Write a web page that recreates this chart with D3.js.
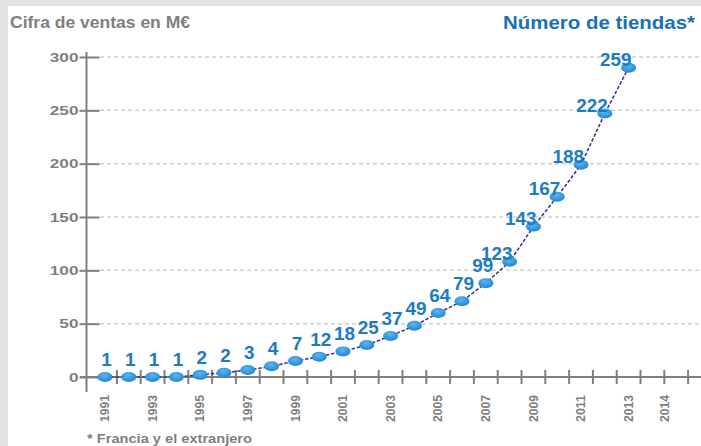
<!DOCTYPE html>
<html>
<head>
<meta charset="utf-8">
<script src="https://cdn.jsdelivr.net/npm/d3@7"></script>
<style>
  html, body { margin: 0; padding: 0; background: #e2e2e2; }
  svg { display: block; }
  text { font-family: "Liberation Sans", Arial, sans-serif; font-weight: bold; }
</style>
</head>
<body>
<svg id="chart" width="701" height="446"></svg>
<script>
// ---- data ----
const years = [1991,1992,1993,1994,1995,1996,1997,1998,1999,2000,2001,2002,2003,2004,2005,2006,2007,2008,2009,2010,2011,2012,2013];
const sales = [0,0,0,0,2,4,6.5,10,15,19,24,30,38.5,48,60,71,88,108,141,169,199,247,290];
const stores = [1,1,1,1,2,2,3,4,7,12,18,25,37,49,64,79,99,123,143,167,188,222,259];
const yTicks = [0,50,100,150,200,250,300];
const xLabelYears = [1991,1993,1995,1997,1999,2001,2003,2005,2007,2009,2011,2013];
const xExtraLabel = "2014";
const axisYears = [1991,1992,1993,1994,1995,1996,1997,1998,1999,2000,2001,2002,2003,2004,2005,2006,2007,2008,2009,2010,2011,2012,2013,2014,2015];
const titleLeft = "Cifra de ventas en M€";
const titleRight = "Número de tiendas*";
const footnote = "* Francia y el extranjero";

const svg = d3.select("#chart");
const W = 701, H = 446;

// white panel
svg.append("rect").attr("x", 8).attr("y", 6).attr("width", W - 8).attr("height", H - 6).attr("fill", "#ffffff");

const x = d3.scaleLinear().domain([1991, 2013]).range([105, 628.6]);
const y = d3.scaleLinear().domain([0, 300]).range([377, 57]);

const gray = "#7f7f7f";
const blue = "#1b7bc4";

// gridlines
svg.append("g").selectAll("line").data(yTicks.filter(d => d > 0)).join("line")
  .attr("x1", 100).attr("x2", W)
  .attr("y1", d => y(d)).attr("y2", d => y(d))
  .attr("stroke", "#cfcfcf").attr("stroke-width", 1.5).attr("stroke-dasharray", "4,3");

// y axis
const yAxis = d3.axisLeft(y).tickValues(yTicks).tickSize(0).tickPadding(8);
const gy = svg.append("g").attr("transform", "translate(86.5,0)").call(yAxis);
gy.select(".domain").remove();
gy.selectAll("text").attr("fill", gray).attr("font-size", 13)
  .attr("x", -8)
  .attr("textLength", d => String(d).length * 9.6).attr("lengthAdjust", "spacingAndGlyphs");
gy.selectAll(".tick").append("line").attr("x1", -7).attr("x2", 13).attr("stroke", gray).attr("stroke-width", 2);
gy.append("line").attr("x1", 0).attr("x2", 0).attr("y1", 52).attr("y2", 392).attr("stroke", gray).attr("stroke-width", 2);

// x axis
const gx = svg.append("g");
gx.append("line").attr("x1", 80).attr("x2", W).attr("y1", y(0)).attr("y2", y(0))
  .attr("stroke", gray).attr("stroke-width", 2);
gx.selectAll("line.tk").data(axisYears).join("line").attr("class", "tk")
  .attr("x1", d => x(d + 0.5)).attr("x2", d => x(d + 0.5))
  .attr("y1", y(0) - 7).attr("y2", y(0) + 7)
  .attr("stroke", gray).attr("stroke-width", 2);

const xl = xLabelYears.map(d => ({ t: String(d), px: x(d) }));
xl.push({ t: xExtraLabel, px: x(+xExtraLabel + 0.5) });
gx.selectAll("text").data(xl).join("text")
  .attr("transform", d => `translate(${d.px},395) rotate(-90)`)
  .attr("text-anchor", "end").attr("dy", "0.35em")
  .attr("font-size", 12).attr("fill", gray)
  .attr("textLength", 27).attr("lengthAdjust", "spacingAndGlyphs")
  .text(d => d.t);

// line
const pts = years.map((yr, i) => ({ yr, v: sales[i], n: stores[i], i }));
svg.append("path").datum(pts)
  .attr("d", d3.line().x(d => x(d.yr)).y(d => y(d.v)))
  .attr("fill", "none").attr("stroke", "#3b3b94").attr("stroke-width", 1.6)
  .attr("stroke-dasharray", "3.5,1.8");

// marker gradient
const defs = svg.append("defs");
const grad = defs.append("radialGradient").attr("id", "mk").attr("cx", "45%").attr("cy", "35%").attr("r", "70%");
grad.append("stop").attr("offset", "0%").attr("stop-color", "#5cb6ee");
grad.append("stop").attr("offset", "100%").attr("stop-color", "#1a82d0");

svg.append("g").selectAll("ellipse").data(pts).join("ellipse")
  .attr("cx", d => x(d.yr)).attr("cy", d => y(d.v))
  .attr("rx", 7.5).attr("ry", 5)
  .attr("fill", "url(#mk)");

// store labels
svg.append("g").selectAll("text").data(pts).join("text")
  .attr("font-size", 18).attr("fill", blue)
  .attr("text-anchor", d => d.i >= 17 ? "end" : "middle")
  .attr("x", d => d.i >= 17 ? x(d.yr) + 3 : (d.i === 16 ? x(d.yr) - 3 : x(d.yr) + 1.5))
  .attr("y", d => d.i >= 17 ? y(d.v) - 2 : y(d.v) - 11)
  .attr("textLength", d => String(d.n).length * 10.5).attr("lengthAdjust", "spacingAndGlyphs")
  .text(d => d.n);

// titles
svg.append("text").attr("x", 10).attr("y", 28).attr("font-size", 16).attr("fill", gray)
  .attr("textLength", 180).attr("lengthAdjust", "spacingAndGlyphs").text(titleLeft);
svg.append("text").attr("x", 503).attr("y", 29).attr("font-size", 18).attr("fill", "#1a70b8")
  .attr("textLength", 192).attr("lengthAdjust", "spacingAndGlyphs").text(titleRight);
svg.append("text").attr("x", 87).attr("y", 443).attr("font-size", 13).attr("fill", gray)
  .attr("textLength", 165).attr("lengthAdjust", "spacingAndGlyphs").text(footnote);
</script>
</body>
</html>
